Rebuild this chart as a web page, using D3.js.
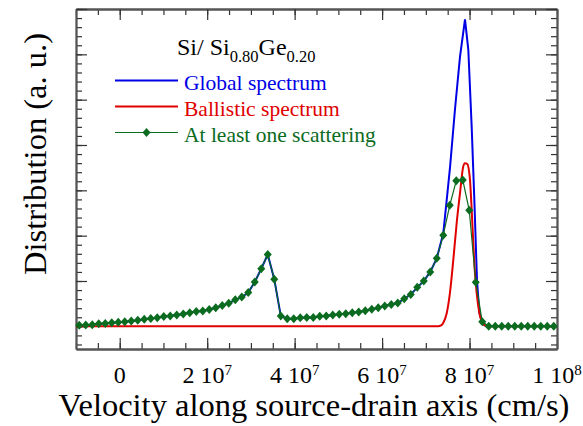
<!DOCTYPE html>
<html lang="en">

<head>
  <meta charset="UTF-8">
  <title>Velocity distribution</title>
  <script src="https://d3js.org/d3.v7.min.js"></script>
  <style>
    body {
      margin: 0;
      padding: 0;
      background: #fff;
    }

    svg text {
      font-family: "Liberation Serif", "Times New Roman", serif;
    }
  </style>
</head>

<body>
  <div id="chart"></div>

  <script>
    // velocities are in units of 1e7 cm/s
    const binVelocity = [-0.926, -0.777, -0.628, -0.480, -0.331, -0.182, -0.034, 0.115, 0.264, 0.412,
      0.561, 0.710, 0.858, 1.007, 1.155, 1.304, 1.453, 1.601, 1.750, 1.899,
      2.047, 2.196, 2.345, 2.493, 2.642, 2.791, 2.939, 3.088, 3.237, 3.385,
      3.534, 3.683, 3.831, 3.980, 4.128, 4.277, 4.426, 4.574, 4.723, 4.872,
      5.020, 5.169, 5.318, 5.466, 5.615, 5.764, 5.912, 6.061, 6.210, 6.358,
      6.507, 6.656, 6.804, 6.953, 7.101, 7.250, 7.399, 7.547, 7.696, 7.845,
      7.993, 8.142, 8.291, 8.439, 8.588, 8.737, 8.885, 9.034, 9.183, 9.331,
      9.480, 9.629, 9.777, 9.926];

    // "At least one scattering" spectrum (one value per bin)
    const scatterValues = [0.025, 0.03, 0.035, 0.055, 0.065, 0.08, 0.09, 0.1, 0.115, 0.135,
      0.155, 0.175, 0.19, 0.215, 0.23, 0.25, 0.27, 0.3, 0.325, 0.34,
      0.37, 0.41, 0.46, 0.51, 0.585, 0.645, 0.745, 0.98, 1.27, 1.585,
      1.04, 0.23, 0.17, 0.17, 0.19, 0.195, 0.195, 0.22, 0.23, 0.25,
      0.265, 0.28, 0.3, 0.315, 0.345, 0.375, 0.41, 0.45, 0.48, 0.515,
      0.61, 0.7, 0.86, 1.0, 1.2, 1.5, 2.01, 2.67, 3.21, 3.23,
      2.56, 0.975, 0.1, 0.0, 0.0, 0.0, 0.0, 0.0, 0.0, 0.0,
      0.0, 0.0, 0.0, 0.0];

    // Global spectrum
    const globalVelocity = [-0.926, -0.777, -0.628, -0.480, -0.331, -0.182, -0.034, 0.115, 0.264, 0.412,
      0.561, 0.710, 0.858, 1.007, 1.155, 1.304, 1.453, 1.601, 1.750, 1.899,
      2.047, 2.196, 2.345, 2.493, 2.642, 2.791, 2.939, 3.088, 3.237, 3.385,
      3.534, 3.683, 3.831, 3.980, 4.128, 4.277, 4.426, 4.574, 4.723, 4.872,
      5.020, 5.169, 5.318, 5.466, 5.615, 5.764, 5.912, 6.061, 6.210, 6.358,
      6.507, 6.656, 6.804, 6.953, 7.101, 7.250, 7.399, 7.478, 7.553, 7.668,
      7.782, 7.896, 7.972, 8.049, 8.109, 8.171, 8.226, 8.291, 8.377, 8.439,
      8.737, 9.034, 9.331, 9.629, 9.926];
    const globalValues = [0.025, 0.03, 0.035, 0.055, 0.065, 0.08, 0.09, 0.1, 0.115, 0.135,
      0.155, 0.175, 0.19, 0.215, 0.23, 0.25, 0.27, 0.3, 0.325, 0.34,
      0.37, 0.41, 0.46, 0.51, 0.585, 0.645, 0.745, 0.98, 1.27, 1.585,
      1.04, 0.23, 0.17, 0.17, 0.19, 0.195, 0.195, 0.22, 0.23, 0.25,
      0.265, 0.28, 0.3, 0.315, 0.345, 0.375, 0.41, 0.45, 0.48, 0.515,
      0.61, 0.7, 0.86, 1.0, 1.2, 1.5, 2.05, 2.79, 3.5, 4.8,
      5.95, 6.77, 6.1, 4.4, 2.8, 1.0, 0.3, 0.07, 0.0, 0.0,
      0.0, 0.0, 0.0, 0.0, 0.0];

    // Ballistic spectrum
    const ballisticVelocity = [-1.0, 7.28, 7.35, 7.40, 7.478, 7.553, 7.629, 7.706, 7.782, 7.857,
      7.896, 7.948, 8.010, 8.049, 8.085, 8.124, 8.164, 8.200, 8.240, 8.300,
      8.353, 8.42, 9.926];
    const ballisticValues = [0.0, 0.0, 0.02, 0.08, 0.29, 0.75, 1.47, 2.28, 2.94, 3.53,
      3.6, 3.58, 3.23, 2.57, 1.84, 1.17, 0.73, 0.44, 0.22, 0.07,
      0.02, 0.0, 0.0];

    const xTickValues = [0, 2, 4, 6, 8, 10];
    const xTickMantissa = ["0", "2 10", "4 10", "6 10", "8 10", "1 10"];
    const xTickExponent = ["", "7", "7", "7", "7", "8"];

    const legendLabels = ["Global spectrum", "Ballistic spectrum", "At least one scattering"];
    const seriesColors = ["#0000e6", "#e00000", "#0b6b1e"];

    const width = 583, height = 426;
    const svg = d3.select("#chart").append("svg")
      .attr("width", width)
      .attr("height", height);

    svg.append("rect").attr("width", width).attr("height", height).attr("fill", "#fff");

    const x = d3.scaleLinear().domain([-1, 10]).range([76, 557]);
    const y = d3.scaleLinear().domain([-0.5, 7]).range([349, 9]);

    // axes: ticks point inward on all four sides
    const xMajor = d3.range(0, 10.01, 2);
    const xMinor = d3.range(-1, 10.01, 0.5);
    const yMajor = d3.range(0, 7.01, 1);
    const yMinor = d3.range(-0.4, 7.01, 0.2);

    function drawAxis(axisFn, scale, tr, major, minor) {
      const gMinor = svg.append("g").attr("transform", tr)
        .call(axisFn(scale).tickValues(minor).tickSize(-6).tickSizeOuter(0).tickFormat(""));
      const gMajor = svg.append("g").attr("transform", tr)
        .call(axisFn(scale).tickValues(major).tickSize(-11).tickSizeOuter(0).tickFormat(""));
      [gMinor, gMajor].forEach(g => {
        g.selectAll(".tick line").attr("stroke", "#333").attr("stroke-width", 1.2);
        g.select(".domain").attr("stroke", "#555").attr("stroke-width", 1.8);
      });
    }

    drawAxis(d3.axisBottom, x, "translate(0,349)", xMajor, xMinor);
    drawAxis(d3.axisTop, x, "translate(0,9)", xMajor, xMinor);
    drawAxis(d3.axisLeft, y, "translate(76,0)", yMajor, yMinor);
    drawAxis(d3.axisRight, y, "translate(557,0)", yMajor, yMinor);

    // x tick labels with superscript exponent
    const tickLabels = svg.append("g");
    xTickValues.forEach((v, i) => {
      const t = tickLabels.append("text")
        .attr("x", x(v))
        .attr("y", 383)
        .attr("text-anchor", "middle")
        .attr("font-size", "24px")
        .attr("fill", "#000");
      t.append("tspan").text(xTickMantissa[i]);
      if (xTickExponent[i]) {
        t.append("tspan").attr("font-size", "15px").attr("dy", -8).text(xTickExponent[i]);
      }
    });

    // axis titles
    svg.append("text")
      .attr("x", 314)
      .attr("y", 416)
      .attr("text-anchor", "middle")
      .attr("font-size", "32.5px")
      .text("Velocity along source-drain axis (cm/s)");

    svg.append("text")
      .attr("transform", "translate(46,154) rotate(-90)")
      .attr("text-anchor", "middle")
      .attr("font-size", "32.5px")
      .text("Distribution (a. u.)");

    // curves
    const plot = svg.append("g");
    const lineLinear = d3.line().x(d => x(d[0])).y(d => y(d[1]));
    const lineSmooth = d3.line().x(d => x(d[0])).y(d => y(d[1])).curve(d3.curveMonotoneX);

    const globalData = globalVelocity.map((v, i) => [v, globalValues[i]]);
    const ballisticData = ballisticVelocity.map((v, i) => [v, ballisticValues[i]]);
    const scatterData = binVelocity.map((v, i) => [v, scatterValues[i]]);

    plot.append("path")
      .datum(globalData)
      .attr("d", lineLinear)
      .attr("fill", "none")
      .attr("stroke", seriesColors[0])
      .attr("stroke-width", 2);

    plot.append("path")
      .datum(ballisticData)
      .attr("d", lineSmooth)
      .attr("fill", "none")
      .attr("stroke", seriesColors[1])
      .attr("stroke-width", 2);

    plot.append("path")
      .datum(scatterData)
      .attr("d", lineLinear)
      .attr("fill", "none")
      .attr("stroke", seriesColors[2])
      .attr("stroke-width", 1.2);

    const diamond = "M0,-4.5L4,0L0,4.5L-4,0Z";
    plot.selectAll(".marker")
      .data(scatterData)
      .enter().append("path")
      .attr("class", "marker")
      .attr("d", diamond)
      .attr("transform", d => `translate(${x(d[0])},${y(d[1])})`)
      .attr("fill", seriesColors[2]);

    // legend
    const legend = svg.append("g");
    const title = legend.append("text")
      .attr("x", 177)
      .attr("y", 55)
      .attr("font-size", "24px")
      .attr("fill", "#000");
    title.append("tspan").text("Si/ Si");
    title.append("tspan").attr("font-size", "16.5px").attr("dy", 6.5).text("0.80");
    title.append("tspan").attr("dy", -6.5).text("Ge");
    title.append("tspan").attr("font-size", "16.5px").attr("dy", 6.5).text("0.20");

    legendLabels.forEach((label, i) => {
      const ly = 80.5 + i * 26;
      legend.append("line")
        .attr("x1", 115).attr("x2", 178)
        .attr("y1", ly).attr("y2", ly)
        .attr("stroke", seriesColors[i])
        .attr("stroke-width", i === 2 ? 1.2 : 2);
      if (i === 2) {
        legend.append("path")
          .attr("d", diamond)
          .attr("transform", `translate(146.5,${ly})`)
          .attr("fill", seriesColors[i]);
      }
      legend.append("text")
        .attr("x", 184)
        .attr("y", ly + 9)
        .attr("font-size", "21.5px")
        .attr("fill", seriesColors[i])
        .text(label);
    });
  </script>
</body>

</html>
